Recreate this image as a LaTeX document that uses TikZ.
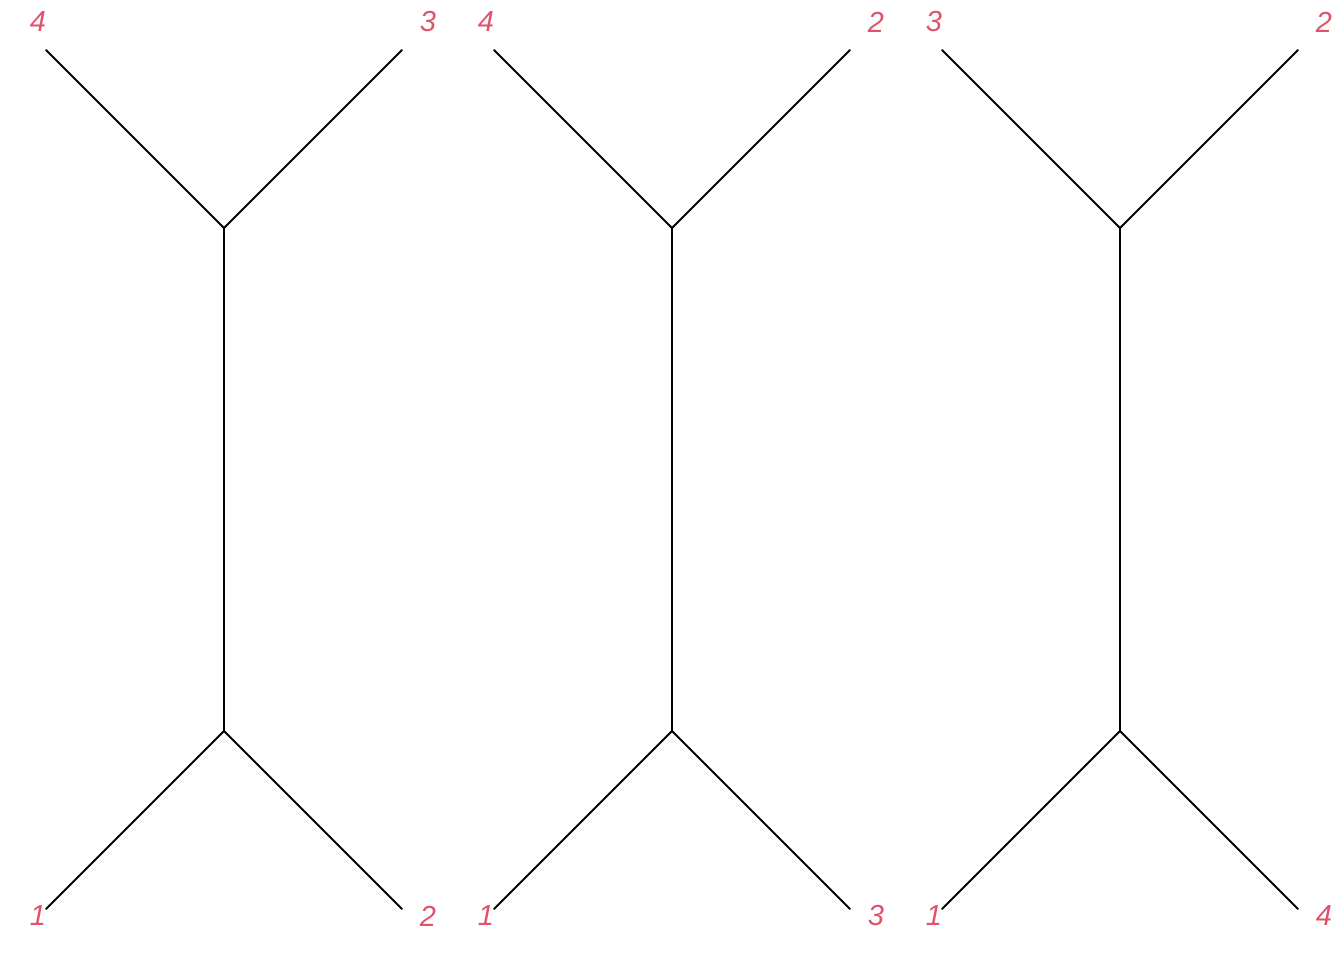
\documentclass[tikz,border=0pt]{standalone}
\usepackage{fontspec}
\setmainfont{Liberation Sans}
\definecolor{labred}{HTML}{DF536B}
\begin{document}
\begin{tikzpicture}[x=1pt,y=-1pt,
  edge/.style={draw=black,line width=1.8pt,line cap=round,line join=round},
  lab/.style={text=labred,font=\fontsize{29}{29}\selectfont\itshape,inner sep=0pt,anchor=center}]
\useasboundingbox (0,0) rectangle (1344,960);
\foreach \i/\tl/\tr/\bl/\br in {0/4/3/1/2, 1/4/2/1/3, 2/3/2/1/4}{
  \pgfmathsetmacro{\ox}{448*\i}
  \begin{scope}[xshift=\ox pt]
    \coordinate (tl\i) at (46,50);
    \coordinate (tr\i) at (402,50);
    \coordinate (bl\i) at (46,909);
    \coordinate (br\i) at (402,909);
    \coordinate (top\i) at (224,228);
    \coordinate (bot\i) at (224,731);
    \draw[edge] (tl\i) -- (top\i) -- (tr\i);
    \draw[edge] (top\i) -- (bot\i);
    \draw[edge] (bl\i) -- (bot\i) -- (br\i);
    \node[lab] (ltl\i) at (38,22) {\tl};
    \node[lab] (ltr\i) at (428,22) {\tr};
    \node[lab] (lbl\i) at (38,916) {\bl};
    \node[lab] (lbr\i) at (428,916) {\br};
  \end{scope}
}
\end{tikzpicture}
\end{document}
